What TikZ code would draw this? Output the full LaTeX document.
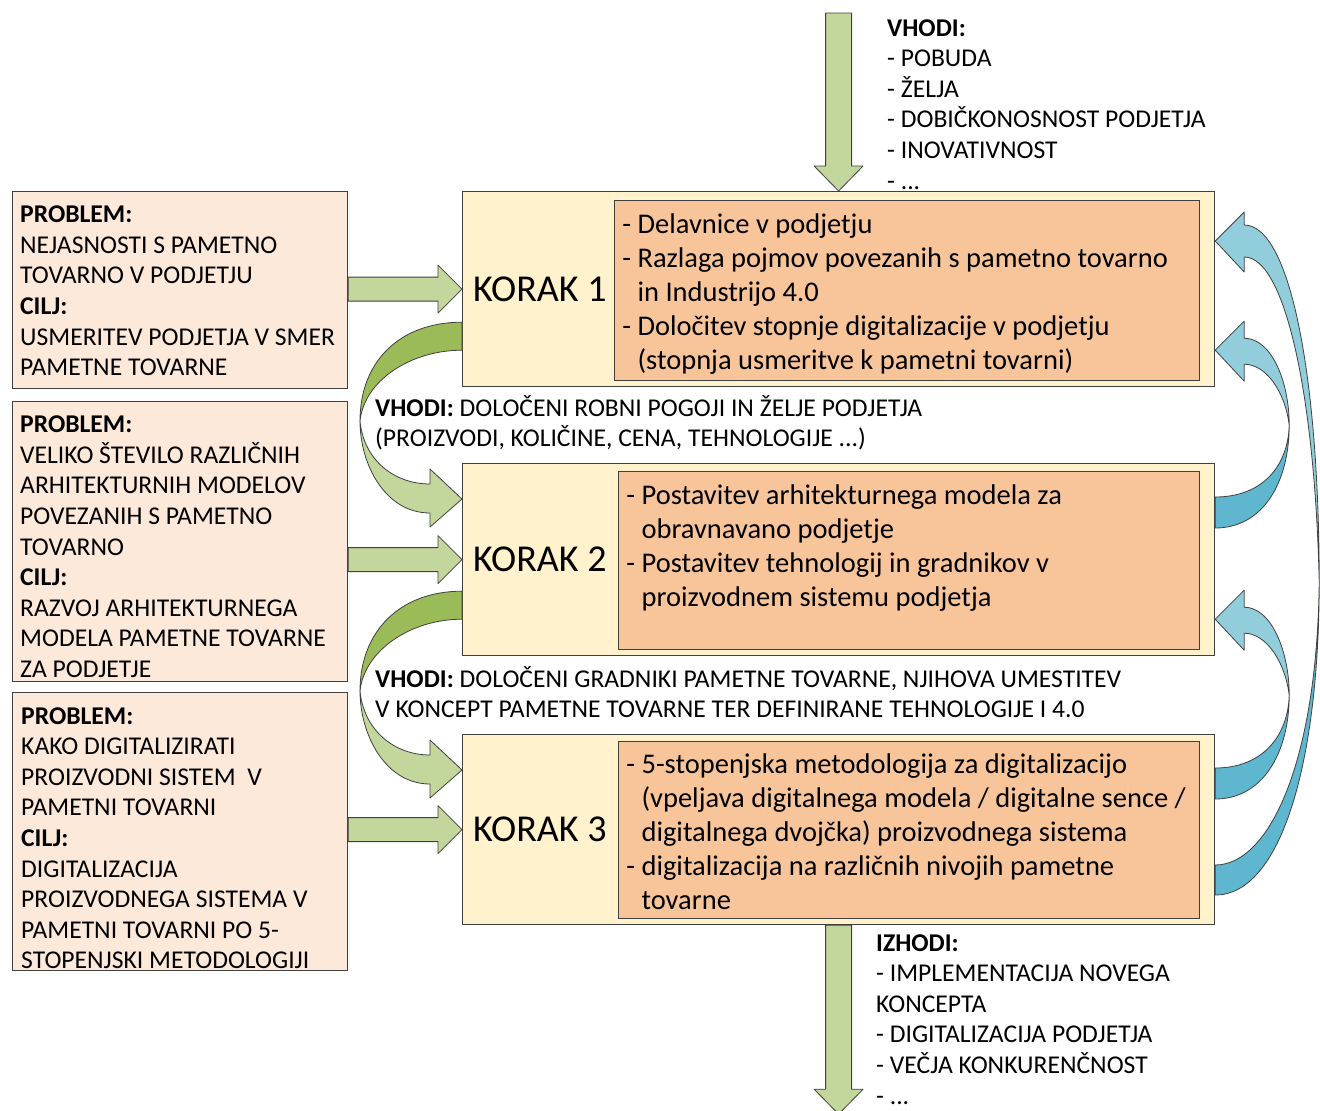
\documentclass[tikz,border=0pt]{standalone}
\usepackage{fontspec}
\setmainfont{Carlito}
\usetikzlibrary{calc,positioning}

\definecolor{probfill}{HTML}{FDE9D9}
\definecolor{stepfill}{HTML}{FFF2CC}
\definecolor{taskfill}{HTML}{F8C59B}
\definecolor{greenlight}{HTML}{C3D69B}
\definecolor{greendark}{HTML}{9BBB59}
\definecolor{bluelight}{HTML}{92CDDC}
\definecolor{bluedark}{HTML}{5FB7CF}
\definecolor{edgegray}{HTML}{404040}

% straight arrow from a problem box into a step box
\newcommand{\rightblock}[2]{%
  \draw[greenfront] ($(#1.east|-#2.west)+(0,-12)$) -- ($(#2.west)+(-24,-12)$) -- ($(#2.west)+(-24,-24)$)
    -- (#2.west) -- ($(#2.west)+(-24,24)$) -- ($(#2.west)+(-24,12)$) -- ($(#1.east|-#2.west)+(0,12)$) -- cycle;}

% straight arrow pointing down
\newcommand{\downblock}[2]{%
  \draw[greenfront] ($(#1)+(-13,0)$) -- ($(#2)+(-13,-25)$) -- ($(#2)+(-24.5,-25)$) -- (#2)
    -- ($(#2)+(24.5,-25)$) -- ($(#2)+(13,-25)$) -- ($(#1)+(13,0)$) -- cycle;}

% curved arrow on the left, from one step down to the next
\newcommand{\greenloop}[2]{%
  \coordinate (gs) at (#1.south west);
  \coordinate (gt) at (#2.north west);
  \coordinate (gm) at ($(gs)!0.5!(gt)+(-102,-4)$);
  \draw[greenback] ($(gs)+(0,-65)$) .. controls ($(gs)+(-62,-65)$) and ($(gm)+(0,-60)$) .. (gm)
    .. controls ($(gm)+(4,-40)$) and ($(gs)+(-52,-37)$) .. ($(gs)+(0,-37)$) -- cycle;
  \draw[greenfront] (gm) .. controls ($(gm)+(0,43)$) and ($(gt)+(-77,50)$) .. ($(gt)+(-32,50)$)
    -- ($(gt)+(-32,64)$) -- ($(gt)+(0,36)$) -- ($(gt)+(-32,6)$) -- ($(gt)+(-32,21)$)
    .. controls ($(gt)+(-67,21)$) and ($(gm)+(4,40)$) .. (gm) -- cycle;}

% curved arrow on the right, from one step back up to the previous
\newcommand{\blueloop}[2]{%
  \coordinate (bs) at (#1.north east);
  \coordinate (bt) at (#2.south east);
  \coordinate (bm) at ($(bs)!0.5!(bt)+(74,0)$);
  \draw[blueback] ($(bs)+(0,65)$) .. controls ($(bs)+(48,65)$) and ($(bm)+(0,57)$) .. (bm)
    .. controls ($(bm)+(-1,40)$) and ($(bs)+(48,34)$) .. ($(bs)+(0,34)$) -- cycle;
  \draw[bluefront] (bm) .. controls ($(bm)+(0,-44)$) and ($(bt)+(56,-49)$) .. ($(bt)+(29,-49)$)
    -- ($(bt)+(29,-66)$) -- ($(bt)+(0,-37)$) -- ($(bt)+(29,-6)$) -- ($(bt)+(29,-23)$)
    .. controls ($(bt)+(51,-23)$) and ($(bm)+(-4,-33)$) .. (bm) -- cycle;}

\begin{document}
\begin{tikzpicture}[x=1pt, y=-1pt]
  \tikzstyle{probbox} = [rectangle, draw=edgegray, fill=probfill, line width=1.2pt, anchor=north west, minimum width=335pt]
  \tikzstyle{probtext} = [inner sep=0pt, align=left, font=\fontsize{25.6}{30.6}\selectfont]
  \tikzstyle{stepbox} = [rectangle, draw=edgegray, fill=stepfill, line width=1.2pt, anchor=north west, minimum width=752pt]
  \tikzstyle{taskbox} = [rectangle, draw=edgegray, fill=taskfill, line width=1pt]
  \tikzstyle{tasktext} = [inner sep=0pt, align=left, font=\fontsize{28.5}{34}\selectfont]
  \tikzstyle{koraktext} = [inner sep=0pt, font=\fontsize{38}{42}\selectfont]
  \tikzstyle{infotext} = [inner sep=0pt, align=left, anchor=base west, font=\fontsize{25.6}{30.6}\selectfont]
  \tikzstyle{greenfront} = [draw=edgegray, fill=greenlight, line width=0.8pt, line join=round]
  \tikzstyle{greenback} = [draw=edgegray, fill=greendark, line width=0.8pt, line join=round]
  \tikzstyle{bluefront} = [draw=edgegray, fill=bluelight, line width=0.8pt, line join=round]
  \tikzstyle{blueback} = [draw=edgegray, fill=bluedark, line width=0.8pt, line join=round]

  \useasboundingbox (0,0) rectangle (1320,1111);

  % problem boxes
  \node[probbox, minimum height=197pt] (prob1) at (12,191) {};
  \node[probbox, minimum height=280pt] (prob2) at (12,401) {};
  \node[probbox, minimum height=278pt] (prob3) at (12,692) {};

  \node[probtext, below right=10pt and 8pt of prob1.north west] (probtext1) {\strut\textbf{PROBLEM:}\\NEJASNOSTI S PAMETNO\\TOVARNO V PODJETJU\\\textbf{CILJ:}\\USMERITEV PODJETJA V SMER\\PAMETNE TOVARNE};
  \node[probtext, below right=10pt and 8pt of prob2.north west] (probtext2) {\strut\textbf{PROBLEM:}\\VELIKO ŠTEVILO RAZLIČNIH\\ARHITEKTURNIH MODELOV\\POVEZANIH S PAMETNO\\TOVARNO\\\textbf{CILJ:}\\RAZVOJ ARHITEKTURNEGA\\MODELA PAMETNE TOVARNE\\ZA PODJETJE};
  \node[probtext, below right=10.5pt and 9pt of prob3.north west] (probtext3) {\strut\textbf{PROBLEM:}\\KAKO DIGITALIZIRATI\\PROIZVODNI SISTEM~ V\\PAMETNI TOVARNI\\\textbf{CILJ:}\\DIGITALIZACIJA\\PROIZVODNEGA SISTEMA V\\PAMETNI TOVARNI PO 5-\\STOPENJSKI METODOLOGIJI};

  % steps
  \node[stepbox, minimum height=195pt] (step1) at (462,191) {};
  \node[stepbox, minimum height=192pt] (step2) at (462,463) {};
  \node[stepbox, minimum height=190pt] (step3) at (462,734) {};

  \node[koraktext, right=11pt of step1.west] (korak1) {KORAK 1};
  \node[koraktext, right=11pt of step2.west] (korak2) {KORAK 2};
  \node[koraktext, right=11pt of step3.west] (korak3) {KORAK 3};

  \node[taskbox, minimum width=585pt, minimum height=180pt, below left=9pt and 15pt of step1.north east] (task1) {};
  \node[taskbox, minimum width=581pt, minimum height=178pt, below left=8pt and 15pt of step2.north east] (task2) {};
  \node[taskbox, minimum width=581pt, minimum height=177pt, below left=7pt and 15pt of step3.north east] (task3) {};

  \node[tasktext, below right=9pt and 8pt of task1.north west] (tasktext1) {\strut- Delavnice v podjetju\\- Razlaga pojmov povezanih s pametno tovarno\\\phantom{- }in Industrijo 4.0\\- Določitev stopnje digitalizacije v podjetju\\\phantom{- }(stopnja usmeritve k pametni tovarni)};
  \node[tasktext, below right=9pt and 8pt of task2.north west] (tasktext2) {\strut- Postavitev arhitekturnega modela za\\\phantom{- }obravnavano podjetje\\- Postavitev tehnologij in gradnikov v\\\phantom{- }proizvodnem sistemu podjetja};
  \node[tasktext, below right=8.5pt and 8pt of task3.north west] (tasktext3) {\strut- 5-stopenjska metodologija za digitalizacijo\\\phantom{- }(vpeljava digitalnega modela / digitalne sence /\\\phantom{- }digitalnega dvojčka) proizvodnega sistema\\- digitalizacija na različnih nivojih pametne\\\phantom{- }tovarne};

  % inputs and outputs
  \coordinate (vin) at ($(step1.north)+(0,-178)$);
  \coordinate (vout) at ($(step3.south)+(0,189)$);
  \downblock{vin}{step1.north}
  \downblock{step3.south}{vout}

  \node[infotext] (vhodi) at (887,189) {\textbf{VHODI:}\\- POBUDA\\- ŽELJA\\- DOBIČKONOSNOST PODJETJA\\- INOVATIVNOST\\- ...};
  \node[infotext] (vhodi12) at (375,446.6) {\textbf{VHODI:} DOLOČENI ROBNI POGOJI IN ŽELJE PODJETJA\\(PROIZVODI, KOLIČINE, CENA, TEHNOLOGIJE ...)};
  \node[infotext] (vhodi23) at (375,717.6) {\textbf{VHODI:} DOLOČENI GRADNIKI PAMETNE TOVARNE, NJIHOVA UMESTITEV\\V KONCEPT PAMETNE TOVARNE TER DEFINIRANE TEHNOLOGIJE I 4.0};
  \node[infotext] (izhodi) at (876,1104) {\textbf{IZHODI:}\\- IMPLEMENTACIJA NOVEGA\\KONCEPTA\\- DIGITALIZACIJA PODJETJA\\- VEČJA KONKURENČNOST\\- ...};

  % arrows
  \rightblock{prob1}{step1}
  \rightblock{prob2}{step2}
  \rightblock{prob3}{step3}

  \greenloop{step1}{step2}
  \greenloop{step2}{step3}

  \blueloop{step2}{step1}
  \blueloop{step3}{step2}

  % long loop from the last step back to the first
  \coordinate (ls) at (step3.north east);
  \coordinate (lt) at (step1.north east);
  \coordinate (lm) at ($(lt)!0.72!(ls)+(104,0)$);
  \draw[blueback] (lm) .. controls ($(lm)+(0,180)$) and ($(ls)+(66,161)$) .. ($(ls)+(0,161)$)
    -- ($(ls)+(0,131)$) .. controls ($(ls)+(54,131)$) and ($(lm)+(-2,180)$) .. (lm) -- cycle;
  \draw[bluefront] (lm) .. controls ($(lm)+(0,-200)$) and ($(lt)+(76,34)$) .. ($(lt)+(29,34)$)
    -- ($(lt)+(29,21)$) -- ($(lt)+(0,50)$) -- ($(lt)+(29,81)$) -- ($(lt)+(29,66)$)
    .. controls ($(lt)+(71,66)$) and ($(lm)+(-4,-180)$) .. (lm) -- cycle;
\end{tikzpicture}
\end{document}
